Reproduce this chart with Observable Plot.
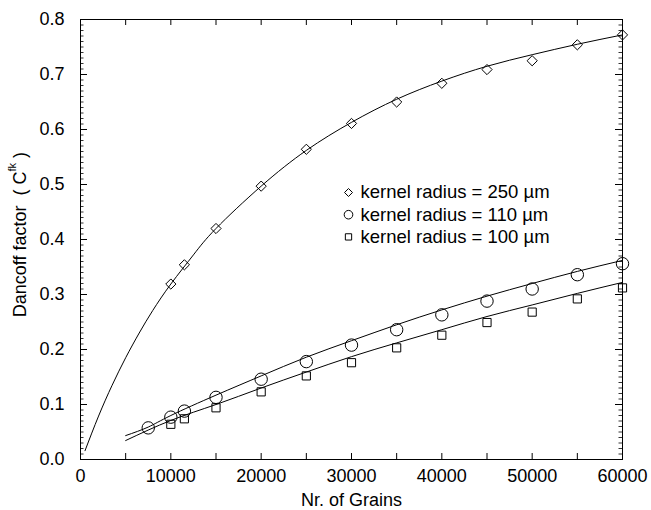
<!DOCTYPE html>
<html>
<head>
<meta charset="utf-8">
<script src="https://cdn.jsdelivr.net/npm/d3@7"></script>
<script src="https://cdn.jsdelivr.net/npm/@observablehq/plot@0.6"></script>
<style>
  body { margin: 0; background: #fff; }
  #chart svg { display: block; }
</style>
</head>
<body>
<div id="chart"></div>
<script>
// ---- Data ----
const seriesNames = ["kernel radius = 250 \u00b5m", "kernel radius = 110 \u00b5m", "kernel radius = 100 \u00b5m"];

const grains250 = [10000, 11500, 15000, 20000, 25000, 30000, 35000, 40000, 45000, 50000, 55000, 60000];
const dancoff250 = [0.319, 0.354, 0.420, 0.497, 0.564, 0.611, 0.650, 0.684, 0.709, 0.725, 0.754, 0.772];

const grains110 = [7500, 10000, 11500, 15000, 20000, 25000, 30000, 35000, 40000, 45000, 50000, 55000, 60000];
const dancoff110 = [0.0575, 0.077, 0.088, 0.113, 0.146, 0.178, 0.208, 0.236, 0.263, 0.288, 0.310, 0.336, 0.356];

const grains100 = [10000, 11500, 15000, 20000, 25000, 30000, 35000, 40000, 45000, 50000, 55000, 60000];
const dancoff100 = [0.064, 0.074, 0.094, 0.123, 0.152, 0.176, 0.203, 0.226, 0.249, 0.268, 0.292, 0.312];

// fitted curves
const fitGrains250 = [500, 2000, 3500, 5000, 6500, 8000, 10000, 12500, 15000, 20000, 25000, 30000, 35000, 40000, 45000, 50000, 55000, 60000];
const fitDancoff250 = [0.016, 0.079, 0.135, 0.185, 0.230, 0.271, 0.319, 0.372, 0.420, 0.497, 0.562, 0.613, 0.655, 0.688, 0.715, 0.736, 0.755, 0.772];

const fitGrains110 = [5000, 7500, 10000, 15000, 20000, 25000, 30000, 35000, 40000, 45000, 50000, 55000, 60000];
const fitDancoff110 = [0.0435, 0.059, 0.080, 0.117, 0.152, 0.186, 0.216, 0.245, 0.272, 0.297, 0.320, 0.342, 0.362];

const fitGrains100 = [5000, 10000, 15000, 20000, 25000, 30000, 35000, 40000, 45000, 50000, 55000, 60000];
const fitDancoff100 = [0.0345, 0.071, 0.100, 0.130, 0.159, 0.187, 0.212, 0.236, 0.260, 0.281, 0.302, 0.322];

const xTickValues = [0, 10000, 20000, 30000, 40000, 50000, 60000];
const xTickLabels = ["0", "10000", "20000", "30000", "40000", "50000", "60000"];
const yTickValues = [0, 0.1, 0.2, 0.3, 0.4, 0.5, 0.6, 0.7, 0.8];
const yTickLabels = ["0.0", "0.1", "0.2", "0.3", "0.4", "0.5", "0.6", "0.7", "0.8"];
const xLabel = "Nr. of Grains";
const yLabelMain = "Dancoff factor\u00a0\u00a0(\u00a0C";
const yLabelSup = "fk";
const yLabelEnd = "\u00a0)";

// ---- Layout ----
const W = 651, H = 510;
const mL = 80, mR = 29, mT = 19, mB = 51;
const innerW = W - mL - mR, innerH = H - mT - mB;
const FONT = "'Liberation Sans', Arial, Helvetica, sans-serif";
const FS = 18;

const toRows = (xs, ys) => xs.map((x, i) => ({x, y: ys[i]}));
const pts250 = toRows(grains250, dancoff250);
const pts110 = toRows(grains110, dancoff110);
const pts100 = toRows(grains100, dancoff100);
const fit250 = toRows(fitGrains250, fitDancoff250);
const fit110 = toRows(fitGrains110, fitDancoff110);
const fit100 = toRows(fitGrains100, fitDancoff100);

const xAllTicks = d3.range(0, 60001, 5000);
const yMinorTicks = d3.range(0, 81).map(i => i / 100);

const symbols = ["diamond2", "circle", "square2"];
const symR = [4.6, 6.2, 5.2];
const legR = [3.6, 4.3, 4.0];

const legendRows = seriesNames.map((name, i) => ({name, i}));

const marks = [
  Plot.frame({stroke: "black", strokeWidth: 1}),
  // ticks (inward)
  Plot.tickX(xAllTicks, {x: d => d, insetTop: innerH - 6, stroke: "black"}),
  Plot.tickX(xAllTicks, {x: d => d, insetBottom: innerH - 6, stroke: "black"}),
  Plot.tickY(yTickValues, {y: d => d, insetRight: innerW - 7, stroke: "black"}),
  Plot.tickY(yMinorTicks, {y: d => d, insetRight: innerW - 3.5, stroke: "black", strokeWidth: 0.8}),
  Plot.tickY(yTickValues, {y: d => d, insetLeft: innerW - 7, stroke: "black"}),
  Plot.tickY(yMinorTicks, {y: d => d, insetLeft: innerW - 3.5, stroke: "black", strokeWidth: 0.8}),
  // tick labels
  Plot.text(xTickValues, {x: d => d, text: (d, i) => xTickLabels[i], frameAnchor: "bottom", dy: 17, lineAnchor: "middle", fontSize: FS, fill: "black"}),
  Plot.text(yTickValues, {y: d => d, text: (d, i) => yTickLabels[i], frameAnchor: "left", dx: -16, textAnchor: "end", lineAnchor: "middle", fontSize: FS, fill: "black"}),
  Plot.text([xLabel], {frameAnchor: "bottom", dy: 41, lineAnchor: "middle", fontSize: FS, fill: "black"}),
  // fitted curves
  Plot.line(fit250, {x: "x", y: "y", curve: "natural", stroke: "black", strokeWidth: 1}),
  Plot.line(fit110, {x: "x", y: "y", curve: "natural", stroke: "black", strokeWidth: 1}),
  Plot.line(fit100, {x: "x", y: "y", curve: "natural", stroke: "black", strokeWidth: 1}),
  // data points
  Plot.dot(pts250, {x: "x", y: "y", symbol: symbols[0], r: symR[0], stroke: "black", fill: "none", strokeWidth: 1}),
  Plot.dot(pts110, {x: "x", y: "y", symbol: symbols[1], r: symR[1], stroke: "black", fill: "none", strokeWidth: 1}),
  Plot.dot(pts100, {x: "x", y: "y", symbol: symbols[2], r: symR[2], stroke: "black", fill: "none", strokeWidth: 1}),
];

// legend
legendRows.forEach(({name, i}) => {
  marks.push(Plot.dot([name], {frameAnchor: "top-left", dx: 268, dy: 173 + i * 22.2, symbol: symbols[i], r: legR[i], stroke: "black", fill: "none", strokeWidth: 1}));
  marks.push(Plot.text([name], {frameAnchor: "top-left", dx: 280, dy: 173 + i * 22.2, text: d => d, textAnchor: "start", lineAnchor: "middle", fontSize: FS + 0.5, fill: "black"}));
});

const chart = Plot.plot({
  width: W,
  height: H,
  marginLeft: mL, marginRight: mR, marginTop: mT, marginBottom: mB,
  x: {domain: [0, 60000], axis: null},
  y: {domain: [0, 0.8], axis: null},
  style: {fontFamily: FONT, fontSize: FS + "px", background: "white", color: "black"},
  marks
});

// y-axis label with superscript
const svg = d3.select(chart);
const yl = svg.append("text")
  .attr("transform", `translate(21, ${mT + innerH * 0.49}) rotate(-90)`)
  .attr("text-anchor", "middle")
  .attr("dominant-baseline", "middle")
  .attr("font-family", FONT)
  .attr("font-size", FS)
  .attr("fill", "black");
yl.append("tspan").text(yLabelMain);
yl.append("tspan").attr("font-size", 11).attr("dy", -8).text(yLabelSup);
yl.append("tspan").attr("dy", 8).text(yLabelEnd);

document.getElementById("chart").appendChild(chart);
</script>
</body>
</html>
